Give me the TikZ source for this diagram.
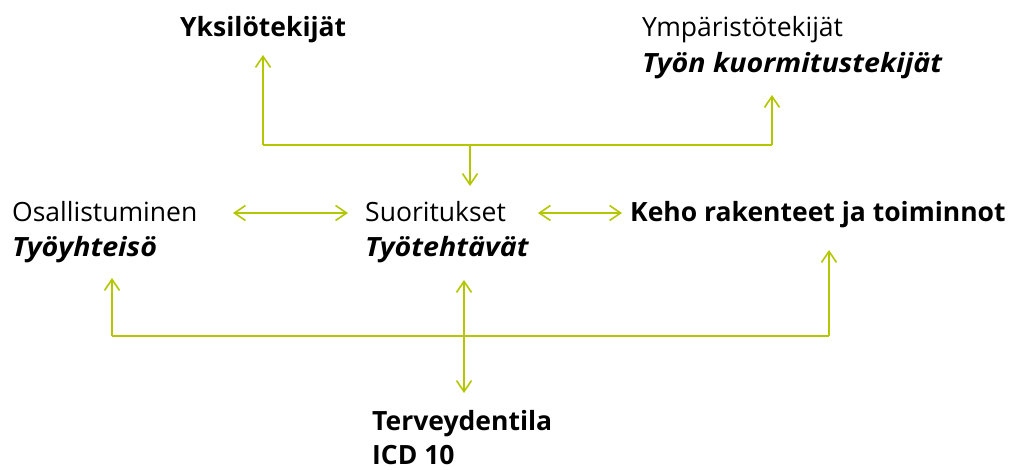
\documentclass[tikz,border=0pt]{standalone}
\usepackage{fontspec}
\setmainfont{Open Sans}
\usetikzlibrary{arrows.meta}
\definecolor{lime}{RGB}{180,198,0}
\newcommand{\bitext}[1]{{\bfseries\itshape\addfontfeatures{FakeStretch=1.08}#1}}
\begin{document}
\begin{tikzpicture}[x=1pt,y=-1pt,
  lbl/.style={anchor=base west,inner sep=0pt,font=\fontsize{26.5}{30}\selectfont,text=black},
  con/.style={draw=lime,line width=1.6pt},
  tip/.style={-{Straight Barb[length=11pt,width=15pt,line width=1.6pt]}},
  tips/.style={{Straight Barb[length=11pt,width=15pt,line width=1.6pt]}-{Straight Barb[length=11pt,width=15pt,line width=1.6pt]}}]
\useasboundingbox (0,0) rectangle (1022,470);
% texts
\node[lbl] (yks) at (180,37) {\textbf{Yksilötekijät}};
\node[lbl] (ymp) at (642,37) {Ympäristötekijät};
\node[lbl] (tkt) at (642,73) {\bitext{Työn kuormitustekijät}};
\node[lbl] (osa) at (12,222) {Osallistuminen};
\node[lbl] (tyy) at (12,257) {\bitext{Työyhteisö}};
\node[lbl] (suo) at (365,222) {Suoritukset};
\node[lbl] (tte) at (365,257) {\bitext{Työtehtävät}};
\node[lbl] (keh) at (630,222) {\textbf{Keho rakenteet ja toiminnot}};
\node[lbl] (ter) at (372,430) {\textbf{Terveydentila}};
\node[lbl] (icd) at (372,464) {\textbf{ICD 10}};
% junction and end coordinates
\coordinate (tl) at (263,145);
\coordinate (tr) at (772,145);
\coordinate (tm) at (470,145);
\coordinate (bl) at (112,336);
\coordinate (br) at (829,336);
\coordinate (yksE) at (263,55);
\coordinate (tktE) at (772,95);
\coordinate (suoE) at (470,186);
\coordinate (tyyE) at (112,278);
\coordinate (kehE) at (829,250);
\coordinate (tteE) at (464,280);
\coordinate (terE) at (464,393);
\coordinate (osaE) at (233,213);
\coordinate (suoW) at (348,213);
\coordinate (suoR) at (538,213);
\coordinate (kehW) at (622,213);
% connectors
\draw[con,tip] (tl) -- (yksE);
\draw[con] (tl) -- (tr);
\draw[con,tip] (tr) -- (tktE);
\draw[con,tip] (tm) -- (suoE);
\draw[con,tips] (osaE) -- (suoW);
\draw[con,tips] (suoR) -- (kehW);
\draw[con,tip] (bl) -- (tyyE);
\draw[con] (bl) -- (br);
\draw[con,tip] (br) -- (kehE);
\draw[con,tips] (tteE) -- (terE);
\end{tikzpicture}
\end{document}
